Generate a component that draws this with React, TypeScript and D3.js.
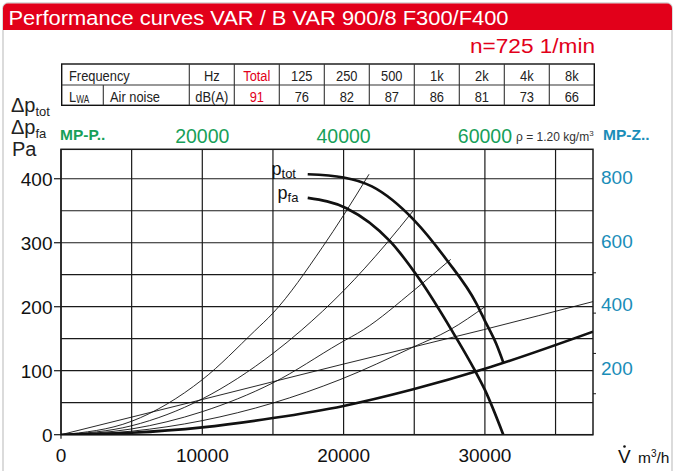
import React from 'react';
import * as d3 from 'd3';

// ---------- data ----------
const title = 'Performance curves VAR / B VAR 900/8 F300/F400';
const speedLabel = 'n=725 1/min';
const bandLabels = ['Hz', 'Total', '125', '250', '500', '1k', '2k', '4k', '8k'];
const noiseValues = ['dB(A)', '91', '76', '82', '87', '86', '81', '73', '66'];

const flowTicks = [0, 10000, 20000, 30000];
const flowGrid = [0, 5000, 10000, 15000, 20000, 25000, 30000, 35000];
const pressTicks = [0, 100, 200, 300, 400];
const pressGrid = [0, 50, 100, 150, 200, 250, 300, 350, 400];
const topLabels = [20000, 40000, 60000];
const rightLabels = [200, 400, 600, 800];
const rightMinorTicks = [64, 127, 190, 253];

type P = [number, number];
const pTot: P[] = [[17460, 407], [20000, 402], [22000, 388], [25000, 335], [27300, 273], [29400, 205], [30000, 178], [30800, 142], [31300, 113]];
const pFa: P[] = [[17460, 370], [20200, 354], [23300, 302], [25400, 242], [27600, 165], [29300, 100], [30000, 70], [31300, 0]];
const pDyn: P[] = [[0, 0], [5000, 3], [10000, 11.5], [15000, 26], [20000, 45], [24930, 71], [30000, 103], [37650, 161]];
const sys1: P[] = [[0, 0], [5000, 21], [10000, 86], [13700, 162], [15000, 190], [18500, 293], [20000, 343], [21800, 407]];
const sys2: P[] = [[0, 0], [5000, 14], [10000, 56], [15000, 127], [17000, 163], [20000, 225], [23000, 298], [24930, 350]];
const sys3: P[] = [[0, 0], [5000, 9], [10000, 36], [15000, 81], [19740, 143], [21400, 164], [25000, 226], [27580, 274]];
const sys4: P[] = [[0, 0], [5000, 5.5], [10000, 22], [15000, 49.5], [19740, 86], [24930, 137], [27530, 164], [30000, 200]];
const sysLine: P[] = [[0, 0], [10000, 55], [19740, 109], [29890, 164], [37650, 208]];
const thinCurves = [sys1, sys2, sys3, sys4, sysLine];

// ---------- styling ----------
const RED = '#e2001a';
const GREEN = '#17a059';
const BLUE = '#1a8db8';
const FONT = "'Liberation Sans', Arial, Helvetica, sans-serif";

function NT({ x, y, anchor = 'start', fill = '#222', children }: { x: number; y: number; anchor?: string; fill?: string; children: React.ReactNode }) {
  return (
    <text transform={`translate(${x},${y}) scale(0.83,1)`} textAnchor={anchor} fill={fill}>{children}</text>
  );
}

export default function App() {
  const x = d3.scaleLinear().domain([0, 37650]).range([61, 593]);
  const xTop = d3.scaleLinear().domain([0, 75300]).range([61, 593]);
  const y = d3.scaleLinear().domain([0, 446]).range([434.7, 149.3]);
  const yRight = d3.scaleLinear().domain([200, 800]).range([y(104.5), y(402)]);
  const line = d3.line<P>().x(d => x(d[0])).y(d => y(d[1])).curve(d3.curveMonotoneX);
  const band = d3.scaleBand<string>().domain(bandLabels).range([189.3, 594.3]);

  const [x0, x1] = x.range();
  const [yb, yt] = y.range();
  const tTop = 64, tMid = 85, tBot = 105.3, tLeft = 61.7;

  return (
    <svg width={675} height={471} style={{ position: 'absolute', left: 0, top: 0 }} fontFamily={FONT}>
      <rect x={0} y={0} width={675} height={471} fill="#fff" />
      {/* frame + header */}
      <rect x={3} y={3} width={669} height={520} rx={5} fill="none" stroke="#cfcfcf" strokeWidth={1.5} />
      <rect x={3} y={3.5} width={669} height={26.5} rx={5} fill={RED} />
      <rect x={3} y={20} width={669} height={10} fill={RED} />
      <text x={8.5} y={25} fontSize={20} fill="#fff" textLength={500} lengthAdjust="spacingAndGlyphs">{title}</text>
      <text x={595} y={53} fontSize={20} fill={RED} textAnchor="end" textLength={125} lengthAdjust="spacingAndGlyphs">{speedLabel}</text>

      {/* table */}
      <g fontSize={15.5} fill="#222">
        <rect x={tLeft} y={tTop} width={band.range()[1] - tLeft} height={tBot - tTop} fill="none" stroke="#111" strokeWidth={1.4} />
        <line x1={tLeft} x2={band.range()[1]} y1={tMid} y2={tMid} stroke="#333" strokeWidth={1.1} />
        <line x1={103.3} x2={103.3} y1={tMid} y2={tBot} stroke="#333" strokeWidth={1.1} />
        {bandLabels.map(b => (
          <line key={'v' + b} x1={band(b)!} x2={band(b)!} y1={tTop} y2={tBot} stroke="#333" strokeWidth={1.1} />
        ))}
        <NT x={69} y={80.5}>Frequency</NT>
        <NT x={69} y={101.5}>L<tspan fontSize={10} dy={1}>WA</tspan></NT>
        <NT x={110} y={101.5}>Air noise</NT>
        {bandLabels.map((b, i) => (
          <g key={'t' + b}>
            <NT x={band(b)! + band.bandwidth() / 2} y={80.5} anchor="middle" fill={b === 'Total' ? RED : '#222'}>{b}</NT>
            <NT x={band(b)! + band.bandwidth() / 2} y={101.5} anchor="middle" fill={b === 'Total' ? RED : '#222'}>{noiseValues[i]}</NT>
          </g>
        ))}
      </g>

      {/* axis titles */}
      <g fill="#222">
        <text x={11} y={112} fontSize={20}>Δp<tspan fontSize={13} dy={4}>tot</tspan></text>
        <text x={11} y={134} fontSize={20}>Δp<tspan fontSize={13} dy={4}>fa</tspan></text>
        <text x={12} y={156} fontSize={20}>Pa</text>
      </g>
      <text x={60} y={140} fontSize={15.5} fontWeight="bold" fill={GREEN}>MP-P..</text>
      <text x={603} y={140} fontSize={15.5} fontWeight="bold" fill={BLUE}>MP-Z..</text>
      <text x={516} y={141} fontSize={12} fill="#333">ρ = 1.20 kg/m<tspan fontSize={8} dy={-5}>3</tspan></text>
      {topLabels.map(t => (
        <text key={'top' + t} x={xTop(t)} y={143} fontSize={19.5} fill={GREEN} textAnchor="middle">{t}</text>
      ))}

      {/* grid */}
      <g stroke="#1a1a1a" strokeWidth={1.2}>
        {flowGrid.map(v => <line key={'gx' + v} x1={x(v)} x2={x(v)} y1={yb} y2={yt} />)}
        {pressGrid.map(v => <line key={'gy' + v} x1={x0} x2={x1} y1={y(v)} y2={y(v)} />)}
        <rect x={x0} y={yt} width={x1 - x0} height={yb - yt} fill="none" strokeWidth={1.5} />
        {pressTicks.map(v => <line key={'ty' + v} x1={x0 - 7} x2={x0} y1={y(v)} y2={y(v)} />)}
        <line x1={x0} x2={x0} y1={yb} y2={yb + 4} />
        {rightMinorTicks.map(v => <line key={'tr' + v} x1={x1} x2={x1 + 3} y1={y(v)} y2={y(v)} strokeWidth={1} />)}
      </g>

      {/* tick labels */}
      <g fontSize={19} fill="#111">
        {pressTicks.map(v => (
          <text key={'ly' + v} x={52.5} y={y(v)} dy="0.36em" textAnchor="end">{v}</text>
        ))}
        {flowTicks.map(v => (
          <text key={'lx' + v} x={x(v)} y={462} textAnchor="middle">{v}</text>
        ))}
      </g>
      {rightLabels.map(v => (
        <text key={'lr' + v} x={601} y={yRight(v)} dy="0.36em" fontSize={19} fill={BLUE}>{v}</text>
      ))}
      <text x={618} y={463} fontSize={19} fill="#111">V</text>
      <circle cx={624.5} cy={446.5} r={1.3} fill="#111" />
      <text x={638} y={463} fontSize={15.5} fill="#111">m<tspan fontSize={10} dy={-6}>3</tspan><tspan dy={6}>/h</tspan></text>

      {/* curves */}
      <defs>
        <clipPath id="plotClip"><rect x={x0} y={yt} width={x1 - x0} height={yb - yt} /></clipPath>
      </defs>
      <g clipPath="url(#plotClip)" fill="none" stroke="#111">
        {thinCurves.map((c, i) => <path key={'s' + i} d={line(c)!} strokeWidth={0.9} />)}
        <path d={line(pDyn)!} strokeWidth={2.6} />
        <path d={line(pTot)!} strokeWidth={2.7} />
        <path d={line(pFa)!} strokeWidth={2.7} />
      </g>
      <text x={271.5} y={175} fontSize={18} fill="#111">p<tspan fontSize={13} dy={3}>tot</tspan></text>
      <text x={277.5} y={199} fontSize={18} fill="#111">p<tspan fontSize={13} dy={3}>fa</tspan></text>
    </svg>
  );
}
